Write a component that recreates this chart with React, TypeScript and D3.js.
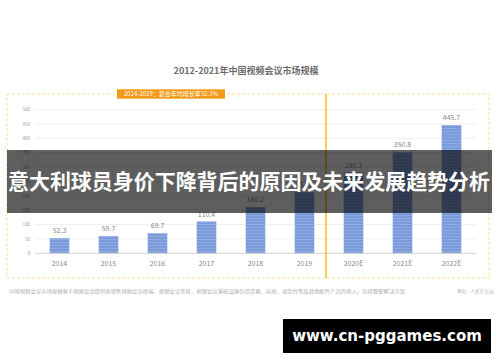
import React, { useEffect, useRef } from 'react';
import * as d3 from 'd3';

const years = ['2014', '2015', '2016', '2017', '2018', '2019', '2020E', '2021E', '2022E'];
const marketSize = [52.3, 59.7, 69.7, 110.4, 160.2, 211.9, 280.3, 350.8, 445.7];
const yTicks = [0, 50, 100, 150, 200, 250, 300, 350, 400, 450, 500];

const title = '2012-2021年中国视频会议市场规模';
const cagrLabel = '2014-2019：复合年均增长率32.3%';
const footNote = '中国视频会议市场规模基于视频会议提供商销售视频会议终端、视频会议系统、视频会议基础设施包括音箱、功放、调音台等及其他配件产品的收入，包括整套解决方案';
const unitNote = '单位：人民币 亿元';
const bannerText = '意大利球员身价下降背后的原因及未来发展趋势分析';
const siteText = 'www.cn-pggames.com';

const W = 500;
const H = 362;
const FONT = '"Noto Sans CJK SC", "Noto Sans", sans-serif';

export default function App() {
  const ref = useRef<SVGSVGElement>(null);

  useEffect(() => {
    const svg = d3.select(ref.current);
    svg.selectAll('*').remove();

    const x = d3.scaleBand().domain(years).range([35, 476]).paddingInner(0.6).paddingOuter(0.3);
    const y = d3.scaleLinear().domain([0, 500]).range([253.3, 109.5]);

    // stripe pattern for the bars
    const defs = svg.append('defs');
    const pat = defs.append('pattern')
      .attr('id', 'barStripe')
      .attr('patternUnits', 'userSpaceOnUse')
      .attr('width', 4).attr('height', 3);
    pat.append('rect').attr('width', 4).attr('height', 3).attr('fill', '#7b9ad9');
    pat.append('rect').attr('y', 2).attr('width', 4).attr('height', 1).attr('fill', '#8daae2');

    svg.append('rect').attr('width', W).attr('height', H).attr('fill', '#fff');

    svg.append('text')
      .attr('x', 246).attr('y', 74)
      .attr('text-anchor', 'middle')
      .attr('font-family', FONT).attr('font-weight', 700)
      .attr('font-size', 9).attr('fill', '#6b6b6b')
      .text(title);

    // dashed frame and divider
    svg.append('rect')
      .attr('x', 7).attr('y', 94).attr('width', 482).attr('height', 184)
      .attr('fill', 'none').attr('stroke', '#f8d97a')
      .attr('stroke-width', 0.8).attr('stroke-dasharray', '3,2');

    // gridlines
    const g = svg.append('g');
    g.selectAll('line.grid')
      .data(yTicks.filter(d => d > 0))
      .join('line')
      .attr('x1', 35).attr('x2', 476)
      .attr('y1', d => y(d)).attr('y2', d => y(d))
      .attr('stroke', '#efefef').attr('stroke-width', 1);

    g.selectAll('text.ytick')
      .data(yTicks)
      .join('text')
      .attr('x', 30).attr('y', d => y(d) + 1.8)
      .attr('text-anchor', 'end')
      .attr('font-family', FONT).attr('font-size', 4.5).attr('fill', '#999')
      .text(d => d);

    g.selectAll('rect.bar')
      .data(marketSize)
      .join('rect')
      .attr('x', (_, i) => x(years[i])!)
      .attr('width', x.bandwidth())
      .attr('y', d => y(d))
      .attr('height', d => y(0) - y(d))
      .attr('fill', 'url(#barStripe)');

    g.selectAll('rect.bartop')
      .data(marketSize)
      .join('rect')
      .attr('x', (_, i) => x(years[i])!)
      .attr('width', x.bandwidth())
      .attr('y', d => y(d))
      .attr('height', 1)
      .attr('fill', '#9bb4e6');

    g.selectAll('text.val')
      .data(marketSize)
      .join('text')
      .attr('x', (_, i) => x(years[i])! + x.bandwidth() / 2)
      .attr('y', d => y(d) - 5)
      .attr('text-anchor', 'middle')
      .attr('font-family', FONT).attr('font-size', 7).attr('fill', '#888')
      .text(d => d.toFixed(1));

    g.append('line')
      .attr('x1', 35).attr('x2', 476)
      .attr('y1', y(0)).attr('y2', y(0))
      .attr('stroke', '#d0d0d0').attr('stroke-width', 1);

    g.selectAll('text.xtick')
      .data(years)
      .join('text')
      .attr('x', d => x(d)! + x.bandwidth() / 2)
      .attr('y', 266)
      .attr('text-anchor', 'middle')
      .attr('font-family', FONT).attr('font-size', 7).attr('fill', '#888')
      .text(d => d);

    // solid divider between actual and estimate
    svg.append('line')
      .attr('x1', 326).attr('x2', 326).attr('y1', 94).attr('y2', 278)
      .attr('stroke', '#f6bd16').attr('stroke-width', 1.5);

    // CAGR label
    svg.append('rect')
      .attr('x', 117).attr('y', 89.3).attr('width', 108).attr('height', 9.4)
      .attr('fill', '#f39a1b');
    svg.append('text')
      .attr('x', 171).attr('y', 96.2)
      .attr('text-anchor', 'middle')
      .attr('font-family', FONT).attr('font-size', 6).attr('fill', '#fff')
      .text(cagrLabel);

    // footnotes
    svg.append('text')
      .attr('x', 9).attr('y', 293)
      .attr('textLength', 396).attr('lengthAdjust', 'spacingAndGlyphs')
      .attr('font-family', FONT).attr('font-size', 4.5).attr('fill', '#aaa')
      .text(footNote);
    svg.append('text')
      .attr('x', 494).attr('y', 293)
      .attr('text-anchor', 'end')
      .attr('font-family', FONT).attr('font-size', 4.5).attr('fill', '#aaa')
      .text(unitNote);

    // overlay banner
    svg.append('rect')
      .attr('x', 7).attr('y', 150).attr('width', 485).attr('height', 63)
      .attr('fill', '#000').attr('fill-opacity', 0.63);
    svg.append('text')
      .attr('x', 249).attr('y', 189)
      .attr('text-anchor', 'middle')
      .attr('textLength', 482).attr('lengthAdjust', 'spacingAndGlyphs')
      .attr('font-family', FONT).attr('font-weight', 700)
      .attr('font-size', 21).attr('fill', '#fff')
      .text(bannerText);

    // site box
    svg.append('rect')
      .attr('x', 283).attr('y', 319).attr('width', 208).attr('height', 34)
      .attr('fill', '#000');
    svg.append('text')
      .attr('x', 387).attr('y', 341)
      .attr('text-anchor', 'middle')
      .attr('font-family', '"DejaVu Sans", sans-serif').attr('font-weight', 700)
      .attr('font-size', 15).attr('fill', '#fff')
      .text(siteText);
  }, []);

  return (
    <svg ref={ref} width={W} height={H}
      style={{ position: 'absolute', left: 0, top: 0, display: 'block' }} />
  );
}
